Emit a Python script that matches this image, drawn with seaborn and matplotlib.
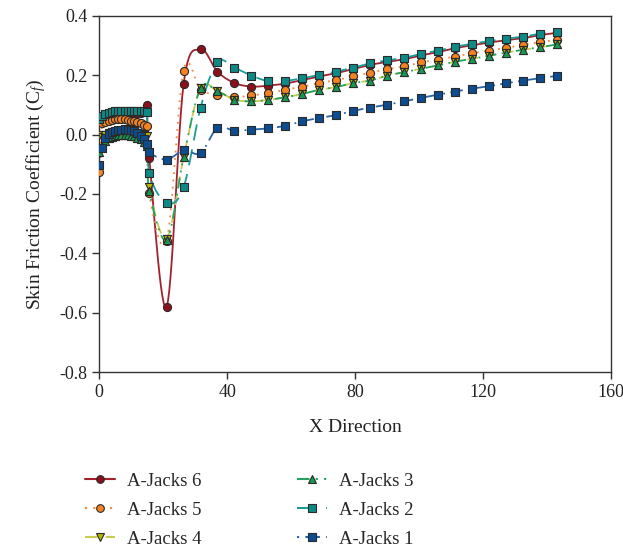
import numpy as np
import matplotlib.pyplot as plt
import seaborn as sns
from matplotlib.lines import Line2D

# x positions: dense cluster near the leading edge, then the regular stations
x_near = [0, 1, 2, 3, 4, 5, 6, 7, 8, 9, 10, 11, 12, 13, 14, 15]
x_far = [15.7, 21.1, 26.4, 31.7, 37.0, 42.3, 47.6, 52.9, 58.2, 63.5, 68.8, 74.1,
         79.4, 84.7, 90.0, 95.3, 100.6, 105.9, 111.2, 116.5, 121.8, 127.1,
         132.4, 137.7, 143.0]
x_dir = x_near + x_far

jacks6 = [0.045, 0.052, 0.058, 0.063, 0.067, 0.070, 0.072, 0.073, 0.074, 0.074,
          0.074, 0.073, 0.073, 0.073, 0.078, 0.101,
          -0.079, -0.580, 0.169, 0.287, 0.212, 0.174, 0.162, 0.165,
          0.172, 0.184, 0.196, 0.207, 0.221, 0.235, 0.245, 0.254, 0.267,
          0.278, 0.291, 0.301, 0.310, 0.318, 0.325, 0.335, 0.343]
jacks5 = [-0.127, 0.039, 0.044, 0.047, 0.050, 0.052, 0.053, 0.052, 0.051, 0.049,
          0.047, 0.045, 0.042, 0.038, 0.033, 0.028,
          -0.198, -0.360, 0.216, 0.151, 0.134, 0.126, 0.132, 0.139,
          0.151, 0.162, 0.173, 0.184, 0.196, 0.209, 0.220, 0.230, 0.243,
          0.253, 0.263, 0.274, 0.283, 0.292, 0.302, 0.311, 0.320]
jacks4 = [0.000, -0.008, 0.000, 0.005, 0.008, 0.010, 0.012, 0.013, 0.013, 0.012,
          0.011, 0.009, 0.006, 0.003, 0.000, -0.003,
          -0.178, -0.350, -0.077, 0.156, 0.146, 0.118, 0.112, 0.117,
          0.126, 0.137, 0.151, 0.160, 0.174, 0.182, 0.199, 0.210, 0.222,
          0.233, 0.246, 0.255, 0.266, 0.276, 0.286, 0.294, 0.304]
jacks3 = [-0.060, -0.035, -0.022, -0.013, -0.007, -0.003, -0.001, 0.000, 0.000,
          -0.001, -0.003, -0.006, -0.010, -0.016, -0.024, -0.037,
          -0.190, -0.355, -0.077, 0.156, 0.146, 0.118, 0.112, 0.117,
          0.126, 0.137, 0.151, 0.160, 0.174, 0.182, 0.199, 0.210, 0.222,
          0.233, 0.246, 0.255, 0.266, 0.276, 0.286, 0.294, 0.304]
jacks2 = [0.053, 0.062, 0.068, 0.073, 0.076, 0.079, 0.080, 0.081, 0.081, 0.081,
          0.080, 0.080, 0.079, 0.078, 0.078, 0.077,
          -0.128, -0.230, -0.178, 0.090, 0.244, 0.225, 0.199, 0.180,
          0.181, 0.190, 0.201, 0.212, 0.226, 0.240, 0.250, 0.259, 0.272,
          0.283, 0.296, 0.306, 0.315, 0.323, 0.330, 0.340, 0.347]
jacks1 = [-0.102, -0.045, -0.010, 0.002, 0.008, 0.012, 0.015, 0.017, 0.018, 0.017,
          0.015, 0.011, 0.005, -0.004, -0.015, -0.030,
          -0.060, -0.084, -0.053, -0.062, 0.023, 0.013, 0.017, 0.021,
          0.030, 0.045, 0.056, 0.066, 0.080, 0.091, 0.101, 0.112, 0.124,
          0.134, 0.145, 0.155, 0.163, 0.173, 0.182, 0.190, 0.198]

labels = ["A-Jacks 6", "A-Jacks 5", "A-Jacks 4", "A-Jacks 3", "A-Jacks 2", "A-Jacks 1"]
series = [jacks6, jacks5, jacks4, jacks3, jacks2, jacks1]
line_colors = ["#a3212e", "#f28a3c", "#c9cc52", "#22a45e", "#1a9d9a", "#2a64a8"]
face_colors = ["#8c0f1c", "#f58220", "#b8b400", "#179850", "#0e8a86", "#0d4c8e"]
markers = ["o", "o", "v", "^", "s", "s"]
styles = ["-", (0, (1, 3)), (0, (6, 4)), (0, (6, 3, 1, 3, 1, 3)), (0, (9, 5)),
          (0, (1, 3, 7, 3))]


def smooth(xs, ys, n=14):
    # excel-like smoothed line (cubic bezier, catmull-rom tangents)
    p = np.column_stack([xs, ys]).astype(float)
    p = np.vstack([p[0], p, p[-1]])
    t = np.linspace(0, 1, n)[:, None]
    out = []
    for i in range(1, len(p) - 2):
        p0, p1, p2, p3 = p[i - 1], p[i], p[i + 1], p[i + 2]
        b1 = p1 + (p2 - p0) / 6
        b2 = p2 - (p3 - p1) / 6
        seg = ((1 - t) ** 3) * p1 + 3 * ((1 - t) ** 2) * t * b1 + 3 * (1 - t) * t ** 2 * b2 + t ** 3 * p2
        out.append(seg if i == 1 else seg[1:])
    out = np.vstack(out)
    return out[:, 0], out[:, 1]


sns.set_theme(style="ticks")
plt.rcParams["font.family"] = ["Liberation Serif", "DejaVu Serif"]
plt.rcParams["mathtext.fontset"] = "custom"
plt.rcParams["mathtext.rm"] = "Liberation Serif"
plt.rcParams["mathtext.it"] = "Liberation Serif:italic"
plt.rcParams["axes.unicode_minus"] = False

fig = plt.figure(figsize=(6.23, 5.48), dpi=100)
ax = fig.add_axes([0.159, 0.321, 0.822, 0.650])

handles = []
for lab, ys, lc, fc, mk, ls in zip(labels, series, line_colors, face_colors, markers, styles):
    sx, sy = smooth(x_dir, ys)
    sns.lineplot(x=sx, y=sy, sort=False, estimator=None, color=lc, linestyle=ls,
                 linewidth=1.3, ax=ax)
    sns.scatterplot(x=x_dir, y=ys, marker=mk, s=34, color=fc, edgecolor="#2a2a2a",
                    linewidth=0.8, ax=ax, zorder=3)
    handles.append(Line2D([], [], color=lc, linestyle=ls, linewidth=1.5, marker=mk,
                          markersize=5.5, markerfacecolor=fc, markeredgecolor="#2a2a2a",
                          markeredgewidth=0.8))

ax.set_xlim(0, 160)
ax.set_ylim(-0.8, 0.4)
ax.set_xticks([0, 40, 80, 120, 160])
ax.set_yticks([-0.8, -0.6, -0.4, -0.2, 0.0, 0.2, 0.4])
ax.set_yticklabels(["%.1f" % v for v in [-0.8, -0.6, -0.4, -0.2, 0.0, 0.2, 0.4]])
ax.tick_params(axis="both", labelsize=13, length=5, width=1, color="#333333",
               labelcolor="#222222", direction="out")
for sp in ax.spines.values():
    sp.set_visible(True)
    sp.set_color("#333333")
    sp.set_linewidth(1.0)

ax.set_xlabel("X Direction", fontsize=14, color="#222222", labelpad=13)
ax.set_ylabel(r"Skin Friction Coefficient (C$_{\mathit{f}}$)", fontsize=14,
              color="#222222", labelpad=8)

fig.legend(handles, labels, ncol=2, loc="upper center", bbox_to_anchor=(0.40, 0.168),
           frameon=False, fontsize=13.5, handlelength=1.6, handletextpad=0.65,
           columnspacing=5.1, labelspacing=0.63)

fig.savefig("out.png", dpi=100)
